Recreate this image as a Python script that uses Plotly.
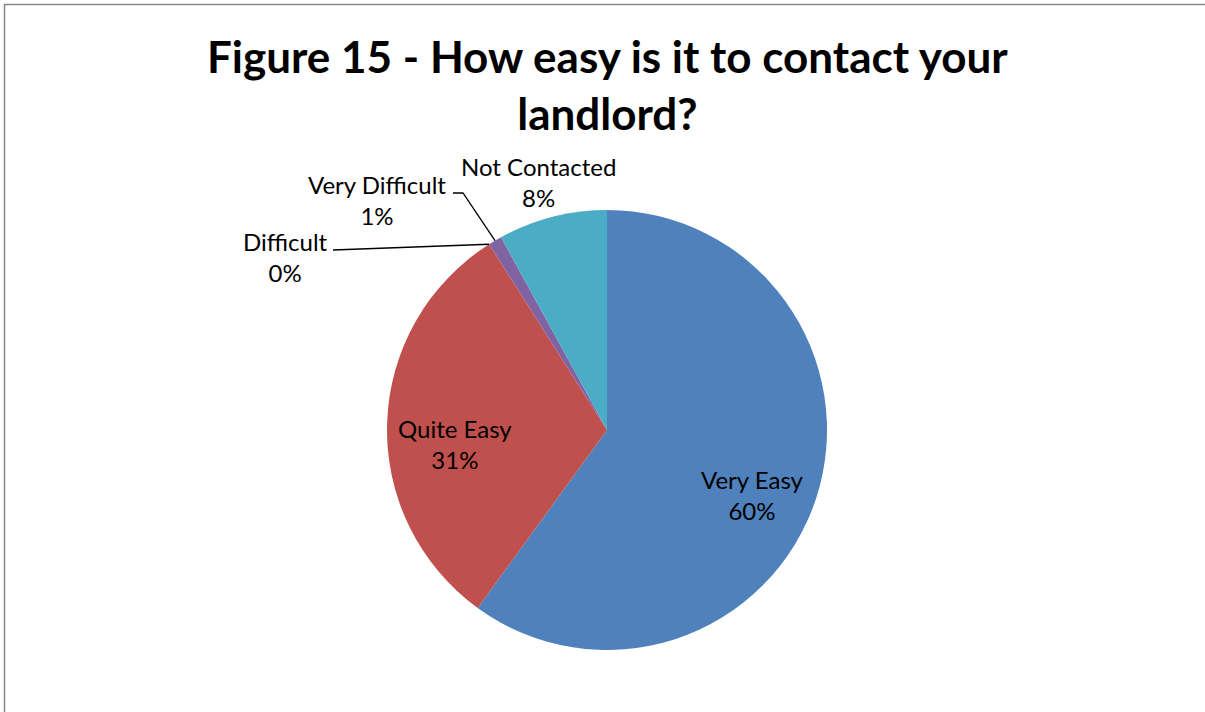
import math
import plotly.graph_objects as go

# Survey responses (percent of respondents)
categories = ["Very Easy", "Quite Easy", "Difficult", "Very Difficult", "Not Contacted"]
values = [60, 31, 0, 1, 8]
colors = ["#4F81BD", "#C0504D", "#9BBB59", "#8064A2", "#4BACC6"]

W, H = 1205, 712
CX, CY, R = 607, 430, 220  # pie centre and radius in pixels


def px(x):
    return x / W


def py(y):
    return 1 - y / H


def slice_point(idx, radius=R):
    """Point on the pie edge at the angular middle of slice idx."""
    total = sum(values)
    start = sum(values[:idx]) / total
    mid = start + values[idx] / total / 2
    ang = mid * 2 * math.pi
    return CX + radius * math.sin(ang), CY - radius * math.cos(ang)


fig = go.Figure(
    go.Pie(
        labels=categories,
        values=values,
        marker=dict(colors=colors, line=dict(width=0)),
        sort=False,
        direction="clockwise",
        rotation=0,
        textinfo="none",
        hoverinfo="label+percent",
        showlegend=False,
        domain=dict(x=[px(CX - R), px(CX + R)], y=[py(CY + R), py(CY - R)]),
    )
)

label_font = dict(family="Lato, Calibri, sans-serif", size=24, color="#000000")


def pct_label(i):
    return f"{categories[i]}<br>{round(values[i] / sum(values) * 100)}%"


# label centres in pixels
label_pos = {
    0: (752, 495),
    1: (455, 444),
    2: (285, 257),
    3: (377, 200),
    4: (538, 182),
}

annotations = []
for i, (lx, ly) in label_pos.items():
    annotations.append(
        dict(
            x=px(lx), y=py(ly), xref="paper", yref="paper",
            text=pct_label(i), showarrow=False, font=label_font,
            xanchor="center", yanchor="middle", align="center",
        )
    )

annotations.append(
    dict(
        x=px(607), y=py(85), xref="paper", yref="paper",
        text="<b>Figure 15 - How easy is it to contact your<br>landlord?</b>",
        showarrow=False,
        font=dict(family="Lato, Calibri, sans-serif", size=44, color="#000000"),
        xanchor="center", yanchor="middle", align="center",
    )
)

# leader lines for the small slices
dx, dy = slice_point(2)
vx, vy = slice_point(3)
leader = dict(color="#000000", width=1.3)
shapes = [
    dict(type="path", xref="paper", yref="paper",
         path=f"M {px(333)},{py(250)} L {px(dx)},{py(dy)}", line=leader),
    dict(type="path", xref="paper", yref="paper",
         path=f"M {px(453)},{py(193)} L {px(463)},{py(193)} L {px(vx)},{py(vy)}",
         line=leader),
    # chart frame
    dict(type="rect", xref="paper", yref="paper",
         x0=px(4.5), y0=py(4.5), x1=px(W + 50), y1=py(H + 50),
         line=dict(color="#868686", width=1.5), fillcolor="rgba(0,0,0,0)"),
]

fig.update_layout(
    width=W, height=H, autosize=False,
    margin=dict(l=0, r=0, t=0, b=0),
    paper_bgcolor="#FFFFFF", plot_bgcolor="#FFFFFF",
    annotations=annotations, shapes=shapes,
)

fig.write_html("out.html")
